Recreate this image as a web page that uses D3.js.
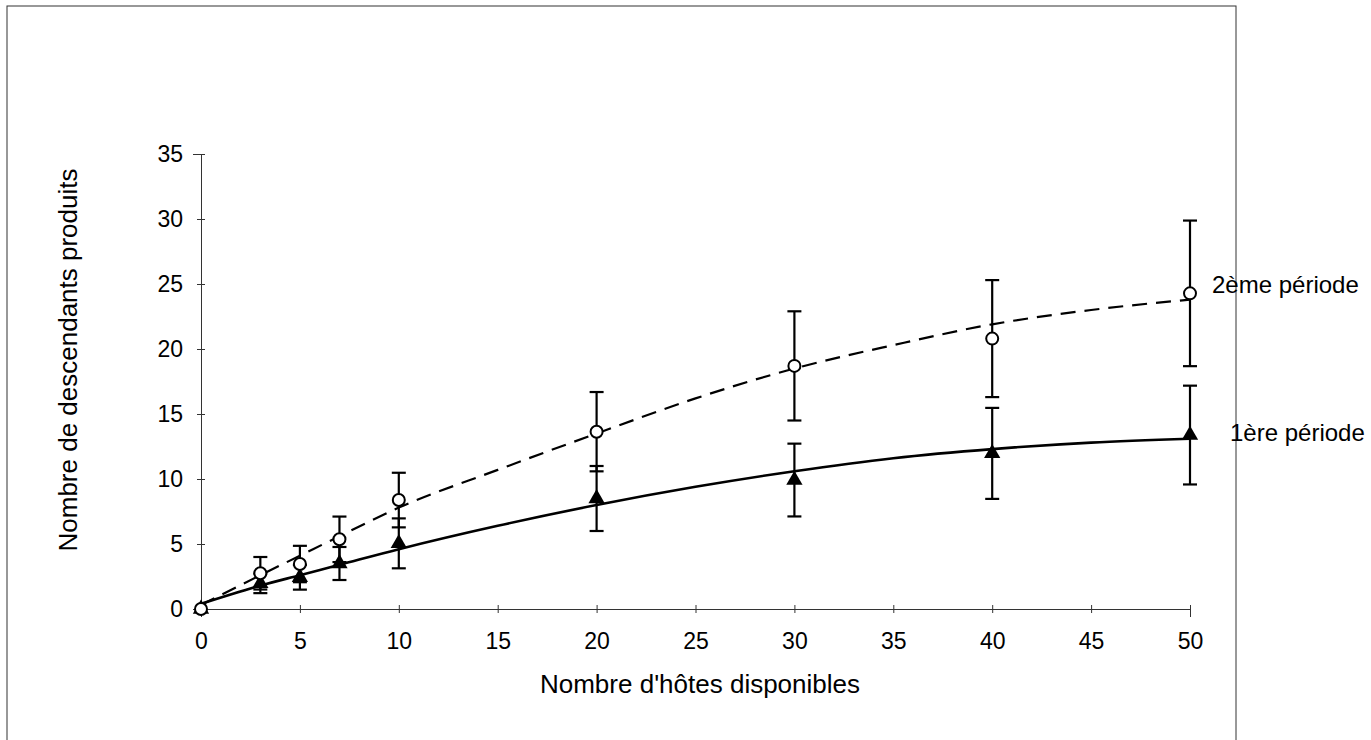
<!DOCTYPE html>
<html>
<head>
<meta charset="utf-8">
<script src="https://cdn.jsdelivr.net/npm/d3@7"></script>
<style>
  html, body { margin: 0; padding: 0; background: #fff; }
  svg { display: block; font-family: "Liberation Sans", Arial, Helvetica, sans-serif; }
</style>
</head>
<body>
<svg id="chart" width="1371" height="740"></svg>
<script>
// ---- data ----
const hostCounts = [0, 3, 5, 7, 10, 20, 30, 40, 50];
const period1Mean = [0, 1.97, 2.44, 3.5, 5.05, 8.5, 9.92, 11.97, 13.38];
const period1Err  = [0, 0.75, 0.95, 1.27, 1.92, 2.5, 2.8, 3.5, 3.8];
const period2Mean = [0, 2.75, 3.46, 5.36, 8.38, 13.64, 18.7, 20.8, 24.28];
const period2Err  = [0, 1.25, 1.4, 1.75, 2.1, 3.05, 4.2, 4.5, 5.6];

const fitX       = [0, 3, 5, 7, 10, 15, 20, 25, 30, 35, 40, 45, 50];
const fitPeriod1 = [0.4, 1.8, 2.6, 3.4, 4.6, 6.4, 8.0, 9.4, 10.6, 11.6, 12.3, 12.8, 13.1];
const fitPeriod2 = [0.3, 2.6, 4.1, 5.6, 7.8, 10.7, 13.5, 16.2, 18.5, 20.3, 21.9, 23.0, 23.8];

const xTicks = [0, 5, 10, 15, 20, 25, 30, 35, 40, 45, 50];
const yTicks = [0, 5, 10, 15, 20, 25, 30, 35];

const xTitle = "Nombre d'hôtes disponibles";
const yTitle = "Nombre de descendants produits";
const label1 = "1ère période";
const label2 = "2ème période";

// ---- drawing ----
const svg = d3.select("#chart");
const x = d3.scaleLinear().domain([0, 50]).range([201, 1190]);
const y = d3.scaleLinear().domain([0, 35]).range([609, 154]);

// outer frame (bottom edge falls below the picture)
svg.append("rect")
  .attr("x", 7).attr("y", 6).attr("width", 1229).attr("height", 780)
  .attr("fill", "none").attr("stroke", "#333").attr("stroke-width", 1);

// x axis
const gx = svg.append("g").attr("transform", `translate(0,${y(0)})`)
  .call(d3.axisBottom(x).tickValues(xTicks).tickSizeOuter(0).tickSize(8));
gx.select(".domain").attr("stroke", "#333");
gx.selectAll(".tick line").attr("y1", -4).attr("y2", 4).attr("stroke", "#333");
gx.selectAll(".tick text").attr("y", 24).attr("font-size", 23)
  .attr("font-family", "Liberation Sans, Arial, sans-serif").attr("fill", "#000");

// y axis
const gy = svg.append("g").attr("transform", `translate(${x(0)},0)`)
  .call(d3.axisLeft(y).tickValues(yTicks).tickSizeOuter(0).tickSize(8));
gy.select(".domain").attr("stroke", "#333");
gy.selectAll(".tick line").attr("x1", -4).attr("x2", 4).attr("stroke", "#333");
gy.selectAll(".tick text").attr("x", -18).attr("font-size", 23)
  .attr("font-family", "Liberation Sans, Arial, sans-serif").attr("fill", "#000");

// titles
svg.append("text").attr("x", 700).attr("y", 693).attr("text-anchor", "middle")
  .attr("font-size", 26).text(xTitle);
svg.append("text").attr("transform", "translate(77,360) rotate(-90)")
  .attr("text-anchor", "middle").attr("font-size", 26).text(yTitle);

// fitted curves
const line = d3.line().x(d => x(d[0])).y(d => y(d[1])).curve(d3.curveMonotoneX);
svg.append("path").datum(fitX.map((v, i) => [v, fitPeriod1[i]]))
  .attr("d", line).attr("fill", "none").attr("stroke", "#000").attr("stroke-width", 2.6);
svg.append("path").datum(fitX.map((v, i) => [v, fitPeriod2[i]]))
  .attr("d", line).attr("fill", "none").attr("stroke", "#000").attr("stroke-width", 2.2)
  .attr("stroke-dasharray", "15,9");

// error bars
function errorBars(means, errs) {
  const g = svg.append("g").attr("stroke", "#000").attr("stroke-width", 2.2);
  hostCounts.forEach((h, i) => {
    if (errs[i] <= 0) return;
    const cx = x(h), top = y(means[i] + errs[i]), bot = y(means[i] - errs[i]);
    g.append("line").attr("x1", cx).attr("x2", cx).attr("y1", top).attr("y2", bot);
    g.append("line").attr("x1", cx - 7).attr("x2", cx + 7).attr("y1", top).attr("y2", top);
    g.append("line").attr("x1", cx - 7).attr("x2", cx + 7).attr("y1", bot).attr("y2", bot);
  });
}
errorBars(period1Mean, period1Err);
errorBars(period2Mean, period2Err);

// markers
svg.append("g").selectAll("path").data(hostCounts.map((h, i) => [h, period1Mean[i]]))
  .join("path")
  .attr("d", d3.symbol().type(d3.symbolTriangle).size(115))
  .attr("transform", d => `translate(${x(d[0])},${y(d[1])})`)
  .attr("fill", "#000");
svg.append("g").selectAll("circle").data(hostCounts.map((h, i) => [h, period2Mean[i]]))
  .join("circle")
  .attr("cx", d => x(d[0])).attr("cy", d => y(d[1])).attr("r", 6)
  .attr("fill", "#fff").attr("stroke", "#000").attr("stroke-width", 2);

// series labels
svg.append("text").attr("x", 1212).attr("y", 293).attr("font-size", 24).text(label2);
svg.append("text").attr("x", 1230).attr("y", 441).attr("font-size", 24).text(label1);
</script>
</body>
</html>
